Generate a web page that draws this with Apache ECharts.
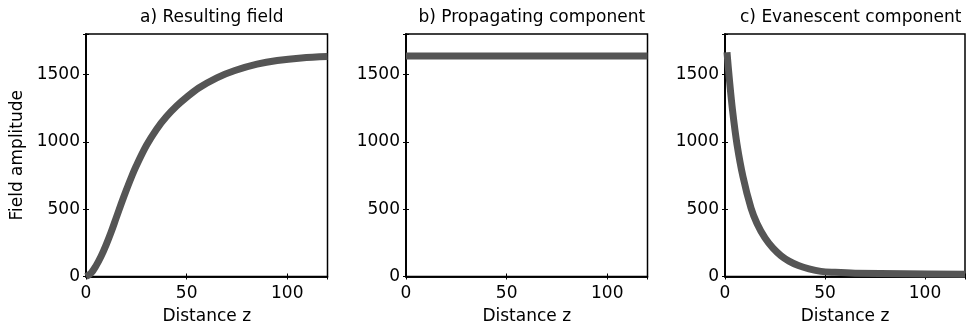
<!DOCTYPE html>
<html>
<head>
<meta charset="utf-8">
<script src="https://cdn.jsdelivr.net/npm/echarts@6/dist/echarts.min.js"></script>
<style>
  html, body { margin: 0; padding: 0; background: #fff; }
  #chart { width: 968px; height: 333px; }
</style>
</head>
<body>
<div id="chart"></div>
<script>
// values
var titles = ['a) Resulting field', 'b) Propagating component', 'c) Evanescent component'];

var zA = [0, 2.5, 5, 7.5, 10, 12.5, 15, 17.5, 20, 22.5, 25, 30, 35, 40, 45, 50, 56, 65, 74, 85, 95, 107, 120];
var fieldA = [0, 25, 80, 150, 235, 330, 435, 540, 640, 735, 822, 972, 1092, 1187, 1265, 1330, 1399, 1475, 1529, 1576, 1603, 1622, 1633];

var zB = [0, 120];
var fieldB = [1637, 1637];

var zC = [1, 2.1, 3.8, 6, 9, 13, 16, 20, 24, 28, 32, 36.7, 42, 48, 55, 65, 90, 120];
var fieldC = [1664, 1478, 1229, 981, 740, 508, 394, 286, 210, 154, 114, 81, 56, 38, 31, 25, 20, 17];

var xTicks = [0, 50, 100];
var yTicks = [0, 500, 1000, 1500];

var font = 'DejaVu Sans';
var lineColor = '#555555';

function pairs(xs, ys) {
  return xs.map(function (x, i) { return [x, ys[i]]; });
}

var gridLefts = [86, 406, 725];
var gridWidth = 241.5;

var grids = [], xAxes = [], yAxes = [], series = [], titleOpts = [];
var datasets = [pairs(zA, fieldA), pairs(zB, fieldB), pairs(zC, fieldC)];

gridLefts.forEach(function (left, i) {
  grids.push({
    left: left, top: 34, width: gridWidth, height: 242.5,
    show: true, borderColor: '#000', borderWidth: 1.5, containLabel: false
  });
  titleOpts.push({
    text: titles[i],
    left: left + gridWidth / 2, top: 4, textAlign: 'center',
    textStyle: { fontFamily: font, fontSize: 17, fontWeight: 'normal', color: '#000' }
  });
  // bottom axis with labels
  xAxes.push({
    gridIndex: i, type: 'value', position: 'bottom', min: 0, max: 120, interval: 50,
    name: 'Distance z', nameLocation: 'middle', nameGap: 32,
    nameTextStyle: { fontFamily: font, fontSize: 17, color: '#000' },
    axisLine: { show: true, lineStyle: { color: '#000', width: 1.5 } },
    axisTick: { show: true, inside: true, length: 3, lineStyle: { color: '#000' } },
    axisLabel: {
      fontFamily: font, fontSize: 17, color: '#000', margin: 9,
      formatter: function (v) { return xTicks.indexOf(v) >= 0 ? String(v) : ''; }
    },
    splitLine: { show: false }
  });
  // top mirror ticks
  xAxes.push({
    gridIndex: i, type: 'value', position: 'top', min: 0, max: 120, interval: 50,
    axisLine: { show: true, lineStyle: { color: '#000', width: 1.5 } },
    axisTick: { show: true, inside: true, length: 3, lineStyle: { color: '#000' } },
    axisLabel: { show: false },
    splitLine: { show: false }
  });
  yAxes.push({
    gridIndex: i, type: 'value', position: 'left', min: 0, max: 1800, interval: 500,
    name: i === 0 ? 'Field amplitude' : '', nameLocation: 'middle', nameGap: 60,
    nameTextStyle: { fontFamily: font, fontSize: 17, color: '#000' },
    axisLine: { show: true, lineStyle: { color: '#000', width: 1.5 } },
    axisTick: { show: true, inside: true, length: 3, lineStyle: { color: '#000' } },
    axisLabel: {
      fontFamily: font, fontSize: 17, color: '#000', margin: 6,
      formatter: function (v) { return yTicks.indexOf(v) >= 0 ? String(v) : ''; }
    },
    splitLine: { show: false }
  });
  yAxes.push({
    gridIndex: i, type: 'value', position: 'right', min: 0, max: 1800, interval: 500,
    axisLine: { show: true, lineStyle: { color: '#000', width: 1.5 } },
    axisTick: { show: true, inside: true, length: 3, lineStyle: { color: '#000' } },
    axisLabel: { show: false },
    splitLine: { show: false }
  });
  series.push({
    type: 'line',
    xAxisIndex: i * 2, yAxisIndex: i * 2,
    data: datasets[i],
    smooth: 0.35,
    showSymbol: false, symbol: 'none',
    lineStyle: { color: lineColor, width: 7, cap: 'butt', join: 'round' },
    animation: false
  });
});

var chart = echarts.init(document.getElementById('chart'), null, { renderer: 'canvas' });
chart.setOption({
  backgroundColor: '#fff',
  animation: false,
  title: titleOpts,
  grid: grids,
  xAxis: xAxes,
  yAxis: yAxes,
  series: series
});
</script>
</body>
</html>
